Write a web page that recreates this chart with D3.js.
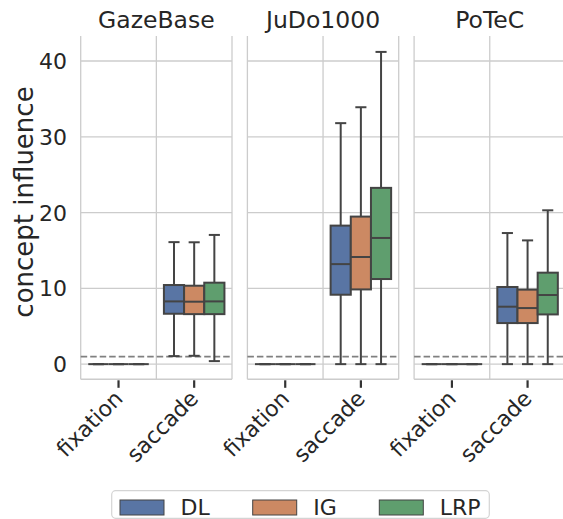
<!DOCTYPE html>
<html>
<head>
<meta charset="utf-8">
<script src="https://cdn.jsdelivr.net/npm/d3@7"></script>
<style>
  html, body { margin: 0; padding: 0; background: #ffffff; }
  svg { display: block; font-family: "DejaVu Sans", sans-serif; }
</style>
</head>
<body>
<svg id="chart" width="563" height="519"></svg>
<script>
// ---------------- data ----------------
const datasets = ["GazeBase", "JuDo1000", "PoTeC"];
const categories = ["fixation", "saccade"];
const methods = ["DL", "IG", "LRP"];
const methodColors = ["#5975a4", "#cc8963", "#5f9e6e"];
const yTicks = [0, 10, 20, 30, 40];
const referenceLine = 1;

// fixation: every statistic is zero for every dataset / method
const fixationLow = [[0, 0, 0], [0, 0, 0], [0, 0, 0]];
const fixationQ1 = [[0, 0, 0], [0, 0, 0], [0, 0, 0]];
const fixationMedian = [[0, 0, 0], [0, 0, 0], [0, 0, 0]];
const fixationQ3 = [[0, 0, 0], [0, 0, 0], [0, 0, 0]];
const fixationHigh = [[0, 0, 0], [0, 0, 0], [0, 0, 0]];

// saccade: rows = datasets, columns = methods (DL, IG, LRP)
const saccadeLow = [[1.06, 1.1, 0.4], [0, 0, 0], [0, 0, 0]];
const saccadeQ1 = [[6.65, 6.6, 6.6], [9.16, 9.86, 11.23], [5.42, 5.42, 6.56]];
const saccadeMedian = [[8.28, 8.24, 8.28], [13.2, 14.14, 16.65], [7.58, 7.4, 9.12]];
const saccadeQ3 = [[10.44, 10.35, 10.75], [18.28, 19.47, 23.26], [10.18, 9.83, 12.07]];
const saccadeHigh = [[16.1, 16.08, 17.05], [31.8, 33.9, 41.2], [17.3, 16.33, 20.3]];

// ---------------- build records ----------------
const stats = {
  fixation: [fixationLow, fixationQ1, fixationMedian, fixationQ3, fixationHigh],
  saccade: [saccadeLow, saccadeQ1, saccadeMedian, saccadeQ3, saccadeHigh]
};
const records = [];
datasets.forEach((ds, di) => {
  categories.forEach(cat => {
    methods.forEach((m, mi) => {
      const s = stats[cat];
      records.push({
        dataset: ds, category: cat, method: m, mi,
        low: s[0][di][mi], q1: s[1][di][mi], med: s[2][di][mi],
        q3: s[3][di][mi], high: s[4][di][mi]
      });
    });
  });
});

// ---------------- layout ----------------
const svg = d3.select("#chart");
const plotTop = 36, plotBottom = 379.3;
const panelLeft0 = 80.7, panelStep = 166.7, panelWidth = 151.3;
const gridColor = "#cccccc";
const textColor = "#262626";
const lineColor = "#444444";

const y = d3.scaleLinear().domain([-2.0, 43.3]).range([plotBottom, plotTop]);
const xPanel = d3.scaleBand().domain(datasets)
  .range([panelLeft0, panelLeft0 + panelStep * datasets.length]).paddingInner(0).paddingOuter(0);
const xCat = d3.scaleBand().domain(categories).range([0, panelWidth]).padding(0);
const xHue = d3.scaleBand().domain(methods).range([-xCat.bandwidth() * 0.4, xCat.bandwidth() * 0.4]).padding(0);
const color = d3.scaleOrdinal().domain(methods).range(methodColors);

datasets.forEach((ds, di) => {
  const left = xPanel(ds);
  const g = svg.append("g").attr("transform", `translate(${left},0)`);

  // vertical grid lines at category boundaries
  const vlines = [0, xCat.bandwidth(), panelWidth];
  g.selectAll("line.vgrid").data(vlines).enter().append("line")
    .attr("x1", d => d).attr("x2", d => d)
    .attr("y1", plotTop).attr("y2", plotBottom)
    .attr("stroke", gridColor).attr("stroke-width", 1.3);

  // horizontal grid
  g.selectAll("line.hgrid").data(yTicks).enter().append("line")
    .attr("x1", 0).attr("x2", panelWidth)
    .attr("y1", d => y(d)).attr("y2", d => y(d))
    .attr("stroke", gridColor).attr("stroke-width", 1.3);

  // bottom spine
  g.append("line").attr("x1", 0).attr("x2", panelWidth)
    .attr("y1", plotBottom).attr("y2", plotBottom)
    .attr("stroke", gridColor).attr("stroke-width", 1.5);

  // reference dashed line
  g.append("line").attr("x1", 0).attr("x2", panelWidth)
    .attr("y1", y(referenceLine)).attr("y2", y(referenceLine))
    .attr("stroke", "#808080").attr("stroke-width", 1.7)
    .attr("stroke-dasharray", "6.5,3");

  // x ticks and labels
  categories.forEach(cat => {
    const cx = xCat(cat) + xCat.bandwidth() / 2;
    g.append("line").attr("x1", cx).attr("x2", cx)
      .attr("y1", plotBottom + 1).attr("y2", plotBottom + 8.5)
      .attr("stroke", "#333").attr("stroke-width", 2.2);
    g.append("text")
      .attr("transform", `translate(${cx + 5.5},${plotBottom + 20.5}) rotate(-45)`)
      .attr("text-anchor", "end")
      .attr("font-size", 22).attr("fill", textColor)
      .text(cat);
  });

  // title
  g.append("text").attr("x", panelWidth / 2).attr("y", 28.3)
    .attr("text-anchor", "middle").attr("font-size", 23.5).attr("fill", textColor)
    .text(ds);

  // boxes
  const recs = records.filter(r => r.dataset === ds);
  const bw = xHue.bandwidth();
  const capW = bw * 0.55;
  const sw = 2;
  recs.forEach(r => {
    const cx = xCat(r.category) + xCat.bandwidth() / 2 + xHue(r.method) + bw / 2;
    const bg = g.append("g");
    // whiskers
    bg.append("line").attr("x1", cx).attr("x2", cx).attr("y1", y(r.q3)).attr("y2", y(r.high))
      .attr("stroke", lineColor).attr("stroke-width", sw);
    bg.append("line").attr("x1", cx).attr("x2", cx).attr("y1", y(r.q1)).attr("y2", y(r.low))
      .attr("stroke", lineColor).attr("stroke-width", sw);
    // caps
    [r.high, r.low].forEach(v => {
      bg.append("line").attr("x1", cx - capW / 2).attr("x2", cx + capW / 2)
        .attr("y1", y(v)).attr("y2", y(v))
        .attr("stroke", lineColor).attr("stroke-width", sw);
    });
    // box
    bg.append("rect").attr("x", cx - bw / 2).attr("width", bw)
      .attr("y", y(r.q3)).attr("height", Math.max(0, y(r.q1) - y(r.q3)))
      .attr("fill", color(r.method)).attr("stroke", lineColor).attr("stroke-width", sw);
    // median
    bg.append("line").attr("x1", cx - bw / 2).attr("x2", cx + bw / 2)
      .attr("y1", y(r.med)).attr("y2", y(r.med))
      .attr("stroke", lineColor).attr("stroke-width", sw);
  });
});

// y axis tick labels (first panel only)
svg.append("g").selectAll("text").data(yTicks).enter().append("text")
  .attr("x", 67).attr("y", d => y(d) + 8)
  .attr("text-anchor", "end").attr("font-size", 22).attr("fill", textColor)
  .text(d => d);

// y label
svg.append("text")
  .attr("transform", `translate(32.5,${(86 + 318) / 2}) rotate(-90)`)
  .attr("text-anchor", "middle").attr("font-size", 26).attr("fill", textColor)
  .text("concept influence");

// legend
const legend = svg.append("g");
legend.append("rect").attr("x", 111.7).attr("y", 490.7).attr("width", 377.6).attr("height", 27.6)
  .attr("rx", 4).attr("fill", "#ffffff").attr("stroke", "#d4d4d4").attr("stroke-width", 1.2);
const legendX = d3.scaleOrdinal().domain(methods).range([120, 252.7, 379.3]);
methods.forEach(m => {
  const lx = legendX(m);
  legend.append("rect").attr("x", lx).attr("y", 500).attr("width", 44).attr("height", 15)
    .attr("fill", color(m)).attr("stroke", lineColor).attr("stroke-width", 1);
  legend.append("text").attr("x", lx + 60.5).attr("y", 515)
    .attr("font-size", 22).attr("fill", textColor).text(m);
});
</script>
</body>
</html>
